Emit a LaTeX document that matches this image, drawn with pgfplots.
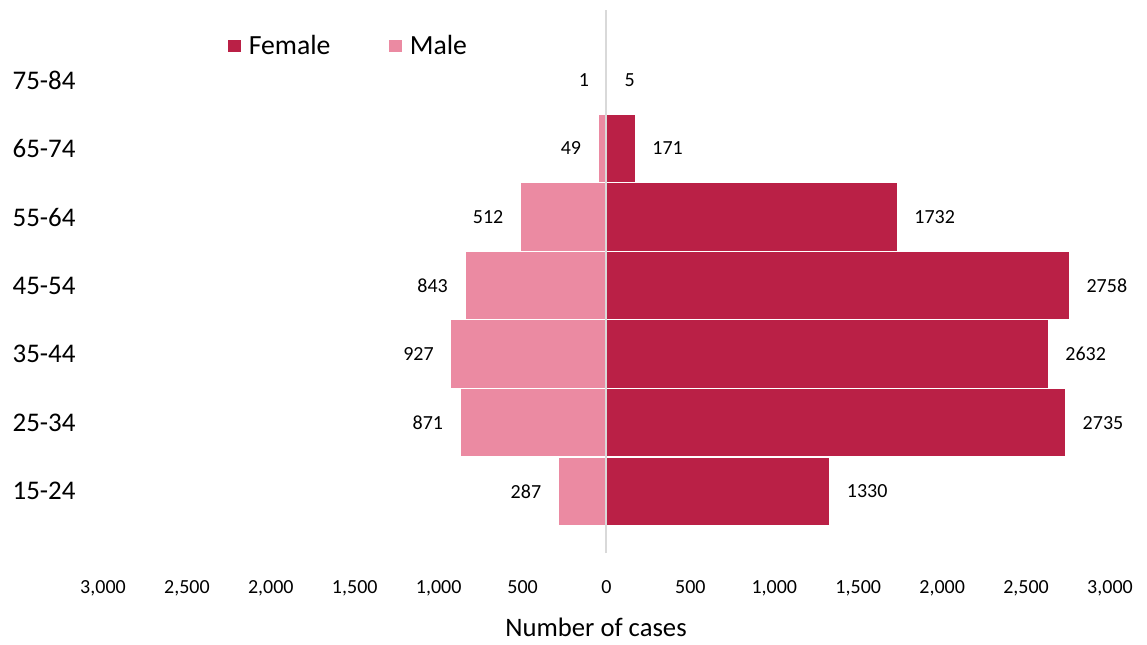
\documentclass[border=0pt]{standalone}
\usepackage{fontspec}
\setmainfont{Carlito}
\usepackage{pgfplots}
\usepackage{pgfplotstable}
\pgfplotsset{compat=1.18}

\definecolor{female}{HTML}{BA2046}
\definecolor{male}{HTML}{EB8AA2}
\definecolor{zeroline}{HTML}{D9D9D9}

% age groups, bottom to top; male counts go to the left
\pgfplotstableread{
pos grp   f    m
0   15-24 1330 287
1   25-34 2735 871
2   35-44 2632 927
3   45-54 2758 843
4   55-64 1732 512
5   65-74 171  49
6   75-84 5    1
}\cases

\begin{document}
\begin{tikzpicture}[x=1pt,y=1pt]
% page = 1147 x 644 px at 0.75pt per px, axis corner at (103,553) px
\useasboundingbox (-77.25,-68.25) rectangle (783,414.75);
\begin{axis}[
    scale only axis,
    width=755.25pt, height=407.25pt,
    xbar, bar shift=0pt, bar width=1,
    xmin=-3000, xmax=3000,
    ymin=-0.9, ymax=7.02,
    xtick={-3000,-2500,...,3000},
    xticklabels={{3,000},{2,500},{2,000},{1,500},{1,000},500,0,500,{1,000},{1,500},{2,000},{2,500},{3,000}},
    ytick={0,...,6},
    yticklabels={15-24,25-34,35-44,45-54,55-64,65-74,75-84},
    axis line style={draw=none},
    major tick length=0pt,
    xticklabel style={font=\fontsize{15}{18}\selectfont, inner sep=0pt, anchor=north, yshift=-20.25pt},
    yticklabel style={font=\fontsize{20.2}{24}\selectfont, inner sep=0pt, anchor=west, xshift=-68pt},
    xlabel={Number of cases},
    every axis x label/.style={at={(axis description cs:0.4896,0)}, anchor=base, yshift=-62.25pt,
        font=\fontsize{20}{24}\selectfont},
    extra x ticks={0}, extra x tick labels={},
    extra x tick style={grid=major, major grid style={draw=zeroline, line width=1.5pt}},
    axis on top,
    legend columns=2,
    legend style={at={(0.124,0.934)}, anchor=west, draw=none, fill=none, inner sep=0pt,
        font=\fontsize{20.8}{24}\selectfont,
        /tikz/every odd column/.append style={column sep=4pt},
        /tikz/every even column/.append style={column sep=42pt}},
    legend image code/.code={\fill[#1, draw=none] (0pt,-4.75pt) rectangle (9.5pt,4.75pt);},
]
\addplot[fill=female, draw=white, line width=0.8pt,
    nodes near coords, point meta=explicit symbolic,
    every node near coord/.style={font=\fontsize{15}{18}\selectfont, inner sep=0pt,
        anchor=west, xshift=12.5pt, text=black}]
    table[x=f, y=pos, meta=f] {\cases};
\addlegendentry{Female}
\addplot[fill=male, draw=white, line width=0.8pt,
    nodes near coords, point meta=explicit symbolic,
    every node near coord/.style={font=\fontsize{15}{18}\selectfont, inner sep=0pt,
        anchor=east, xshift=-12.5pt, text=black}]
    table[x expr=-\thisrow{m}, y=pos, meta=m] {\cases};
\addlegendentry{Male}
\end{axis}
\end{tikzpicture}
\end{document}
